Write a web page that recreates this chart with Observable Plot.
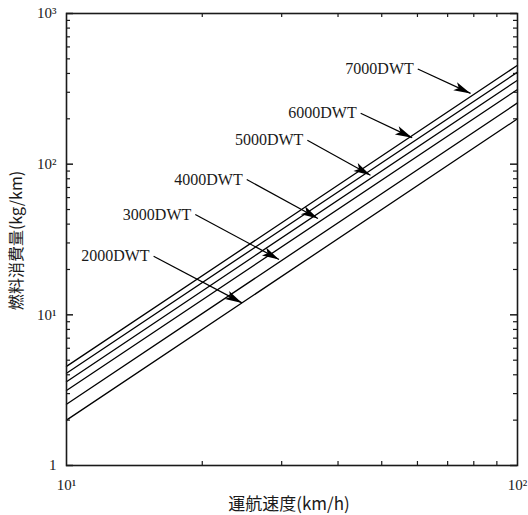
<!DOCTYPE html>
<html><head><meta charset="utf-8">
<script src="https://cdn.jsdelivr.net/npm/d3@7"></script>
<script src="https://cdn.jsdelivr.net/npm/@observablehq/plot@0.6"></script>
<style>body{margin:0;background:#fff}</style>
</head><body><div id="chart"></div>
<script>
// ---- data ----
const dwtLabels = ["2000DWT", "3000DWT", "4000DWT", "5000DWT", "6000DWT", "7000DWT"];
const speedRange = [10, 100];               // km/h
const fuelAt10 = [2.0, 2.55, 3.15, 3.6, 4.1, 4.55];   // kg/km at 10 km/h
const fuelAt100 = [200, 255, 313, 361, 408, 453];     // kg/km at 100 km/h
// annotation arrows (data coordinates)
const arrowFromX = [15.6, 19.3, 25.1, 34.2, 44.9, 60.1];
const arrowFromY = [24.5, 46.3, 79.1, 144, 218, 428];
const arrowToX = [24.5, 29.6, 36.1, 47.2, 58.4, 78.7];
const arrowToY = [12.0, 23.3, 43.6, 84.5, 150, 295];
// ticks
const xMajor = [10, 100];
const yMajor = [1, 10, 100, 1000];
const xMinor = [20, 30, 40, 50, 60, 70, 80, 90];
const yMinor = [2, 3, 4, 5, 6, 7, 8, 9, 20, 30, 40, 50, 60, 70, 80, 90, 200, 300, 400, 500, 600, 700, 800, 900];
const xTitle = "運航速度(km/h)";
const yTitle = "燃料消費量(kg/km)";

const lines = dwtLabels.flatMap((name, i) => [
  {name, speed: speedRange[0], fuel: fuelAt10[i]},
  {name, speed: speedRange[1], fuel: fuelAt100[i]}
]);
const arrows = dwtLabels.map((name, i) => ({
  name, x1: arrowFromX[i], y1: arrowFromY[i], x2: arrowToX[i], y2: arrowToY[i]
}));

const sup = {0: "⁰", 1: "¹", 2: "²", 3: "³"};
const fmt = d => d === 1 ? "1" : "10" + sup[Math.round(Math.log10(d))];

function arrowHead(color, context) {
  const doc = (context && context.document) || document;
  const ns = "http://www.w3.org/2000/svg";
  const m = doc.createElementNS(ns, "marker");
  m.setAttribute("viewBox", "-18 -5 19 10");
  m.setAttribute("markerWidth", 19);
  m.setAttribute("markerHeight", 10);
  m.setAttribute("markerUnits", "userSpaceOnUse");
  m.setAttribute("orient", "auto");
  m.setAttribute("refX", 0);
  m.setAttribute("refY", 0);
  const p = doc.createElementNS(ns, "path");
  p.setAttribute("d", "M0,0L-17,-4.5L-13,0L-17,4.5Z");
  p.setAttribute("fill", color);
  p.setAttribute("stroke", "none");
  m.appendChild(p);
  return m;
}

const FW = 451, FH = 452;
const ink = "#1a1a1a";
const serif = "'Liberation Serif', 'Times New Roman', serif";
const cjk = "'Noto Sans CJK JP', sans-serif";

const chart = Plot.plot({
  width: 528, height: 515,
  marginLeft: 66, marginRight: 11, marginTop: 13, marginBottom: 50,
  x: {type: "log", domain: [10, 100]},
  y: {type: "log", domain: [1, 1000]},
  style: {fontFamily: serif, fontSize: "14px", color: ink, background: "#fff"},
  marks: [
    Plot.line(lines, {x: "speed", y: "fuel", z: "name", stroke: "#000", strokeWidth: 1.3}),
    Plot.link(arrows, {x1: "x1", y1: "y1", x2: "x2", y2: "y2", stroke: "#000", strokeWidth: 1.2, markerEnd: arrowHead}),
    Plot.text(arrows, {x: "x1", y: "y1", text: "name", textAnchor: "end", dx: -4, fontSize: 16, fontFamily: serif, fill: ink}),
    // inward ticks on all four sides
    Plot.tickY(yMajor, {y: d => d, insetRight: FW - 7, stroke: ink, strokeWidth: 1.5}),
    Plot.tickY(yMinor, {y: d => d, insetRight: FW - 4, stroke: ink, strokeWidth: 1.2}),
    Plot.tickY(yMajor, {y: d => d, insetLeft: FW - 7, stroke: ink, strokeWidth: 1.5}),
    Plot.tickY(yMinor, {y: d => d, insetLeft: FW - 4, stroke: ink, strokeWidth: 1.2}),
    Plot.tickX(xMinor, {x: d => d, insetTop: FH - 4, stroke: ink, strokeWidth: 1.2}),
    Plot.tickX(xMinor, {x: d => d, insetBottom: FH - 4, stroke: ink, strokeWidth: 1.2}),
    Plot.frame({stroke: ink, strokeWidth: 1.6}),
    Plot.axisX({ticks: xMajor, tickSize: 0, tickPadding: 14, tickFormat: fmt, label: null, fontSize: 15, fontFamily: serif, fill: ink}),
    Plot.axisY({ticks: yMajor, tickSize: 0, tickPadding: 10, tickFormat: fmt, label: null, fontSize: 15, fontFamily: serif, fill: ink}),
    Plot.text([yTitle], {text: d => d, frameAnchor: "left", textAnchor: "middle", lineAnchor: "middle", dx: -50, dy: 1, rotate: -90, fontFamily: cjk, fontSize: 16, fill: ink}),
    Plot.text([xTitle], {text: d => d, frameAnchor: "bottom", textAnchor: "middle", lineAnchor: "middle", dx: -3, dy: 39, fontFamily: cjk, fontSize: 17, fill: ink})
  ]
});
document.getElementById("chart").append(chart);
</script>
</body></html>
